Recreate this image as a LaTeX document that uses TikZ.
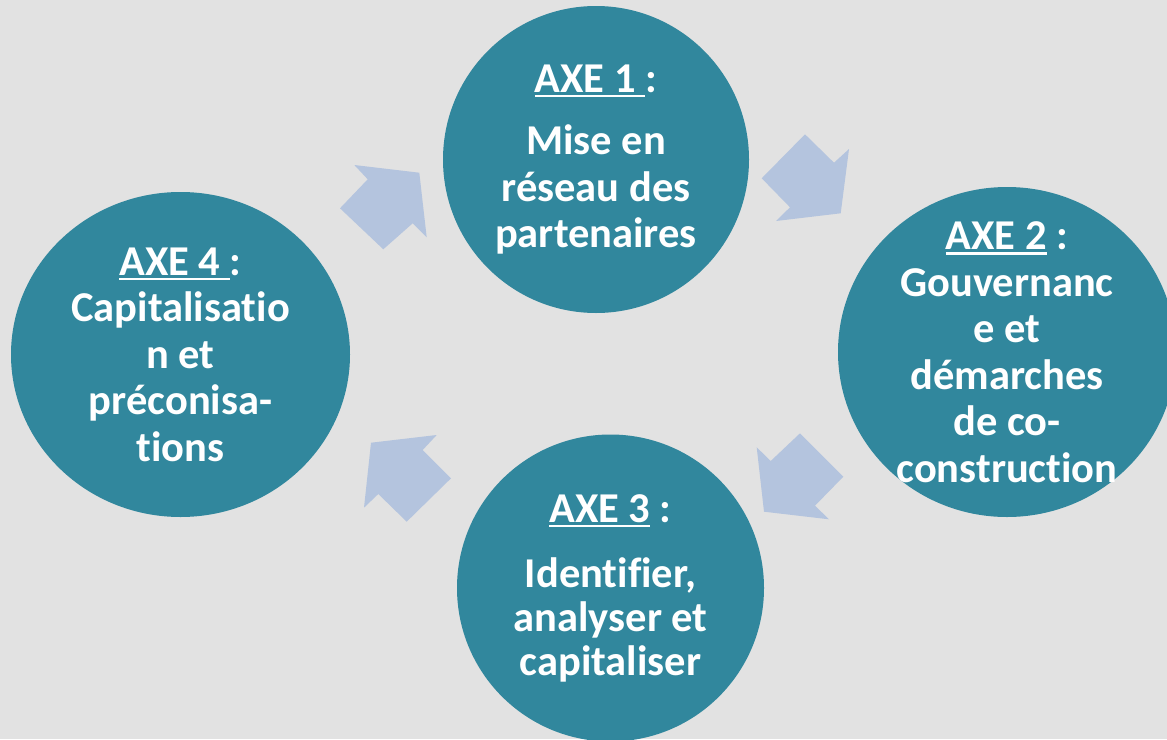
\documentclass[tikz,border=0pt]{standalone}
\usepackage{fontspec}
\setmainfont{Carlito}[Ligatures=NoCommon]
\usetikzlibrary{shapes.geometric}
\definecolor{bgcol}{RGB}{226,226,226}
\definecolor{tealcol}{RGB}{49,135,157}
\definecolor{arrcol}{RGB}{180,196,222}
\newcommand\axeul[1]{\setbox0\hbox{#1}\rlap{\rule[-5pt]{\wd0}{2.6pt}}\box0\relax}
\begin{document}
\begin{tikzpicture}[x=1pt,y=-1pt,
  disc/.style={ellipse, fill=tealcol, inner sep=0pt},
  lbl/.style={text=white, font=\bfseries\fontsize{42.5}{46.5}\selectfont, align=center, inner sep=0pt},
  arrowshape/.style={fill=arrcol}]
\useasboundingbox (0,0) rectangle (1167,739);
\fill[bgcol] (0,0) rectangle (1167,739);
% arrows
\fill[arrowshape] (354.3,165) -- (419.3,172.7) -- (426.7,237.3) -- (412.7,223.3) -- (383.3,249.3) -- (340,208.3) -- (367.7,179.3) -- cycle;
\fill[arrowshape] (805,134.3) -- (834,162.7) -- (849,149) -- (840.7,213.3) -- (776,221) -- (790,207.3) -- (761.7,178.3) -- cycle;
\fill[arrowshape] (756.7,447.3) -- (770.7,461) -- (800,433.3) -- (843.3,476.7) -- (815,505.7) -- (829,519.3) -- (764,511.7) -- cycle;
\fill[arrowshape] (371,442.7) -- (436.7,435) -- (422.7,450) -- (451,478.3) -- (406.7,521.7) -- (378.3,494) -- (364,507.7) -- cycle;
% discs
\node[disc, minimum width=306pt, minimum height=307pt] (c1) at (596,159.5) {};
\node[disc, minimum width=338pt, minimum height=330pt] (c2) at (1007,352) {};
\node[disc, minimum width=307pt, minimum height=307pt] (c3) at (610.5,588) {};
\node[disc, minimum width=339pt, minimum height=325pt] (c4) at (180.5,354.5) {};
% texts
\node[lbl] (t1) at (c1) {\axeul{AXE 1 }:\\[16pt]Mise en\\réseau des\\partenaires};
\node[lbl] (t2) at (c2) {\axeul{AXE 2} :\\Gouvernanc\\e et\\démarches\\de co-\\construction};
\node[lbl, font=\bfseries\fontsize{42.5}{44}\selectfont] (t3) at (c3) {\axeul{AXE 3} :\\[21pt]Identifier,\\analyser et\\capitaliser};
\node[lbl] (t4) at (c4) {\axeul{AXE 4 }:\\Capitalisatio\\n et\\préconisa-\\tions};
\end{tikzpicture}
\end{document}
